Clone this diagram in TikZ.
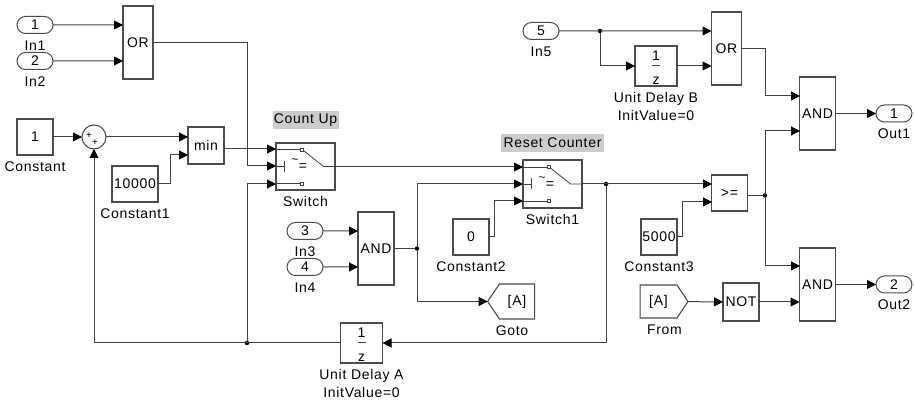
\documentclass[tikz,border=0pt]{standalone}
\usepackage{fontspec}
\setmainfont[LetterSpace=5]{Liberation Sans}
\usetikzlibrary{shapes.misc, shapes.symbols, arrows.meta}
\usetikzlibrary{positioning}

\begin{document}
\begin{tikzpicture}
[
x=1pt, y=-1pt,
font=\fontsize{14}{16}\selectfont,
every node/.style={inner sep=0pt, outer sep=0pt},
                    block/.style   ={rectangle, draw=black!70, line width=1.1pt, text centered, minimum width=36pt},
                    port/.style    ={rounded rectangle, draw=black!70, line width=1pt, minimum width=36pt, minimum height=17pt},
                    tag/.style     ={signal, signal from=nowhere, draw=black!70, line width=1.1pt, signal pointer angle=112},
                    caption/.style ={text height=10pt, text depth=3pt},
                    note/.style    ={fill=black!20, minimum height=18pt},
                    delay/.style   ={block, minimum width=42pt, minimum height=40pt},
                    dot/.style     ={circle, fill=black, minimum size=4.5pt},
                    line/.style    ={draw=black!75, line width=1pt, -{Triangle[length=9pt, width=9pt, color=black, fill=black]}},
                    wire/.style    ={draw=black!75, line width=1pt},
                    switchicon/.pic={
                      \draw[wire, line width=.8pt] (-29.5,-17) -- (-5,-17);
                      \draw[wire, line width=.8pt] (-5,-18.5) rectangle (-2,-15.5);
                      \draw[wire, line width=.8pt] (-2,-16) -- (18,0) -- (29.5,0);
                      \draw[wire, line width=.8pt] (-29.5,0) -- (-21,0);
                      \draw[wire, line width=.8pt] (-21,-5.5) -- (-21,5.5);
                      \draw[wire, line width=.8pt] (-29.5,17) -- (-5,17);
                      \draw[wire, line width=.8pt] (-5,15.5) rectangle (-2,18.5);
                      \node[font=\fontsize{12}{12}\selectfont] (tilde) at (-10.5,-5) {\textasciitilde};
                      \node[font=\fontsize{14}{14}\selectfont] (equal) at (-2.5,1) {=};
                    },
                    delayicon/.pic={
                      \node (num) at (0,-10) {1};
                      \draw[wire] (-4,0) -- (4,0);
                      \node (den) at (0,15) {z};
                    },
                    node distance = 7pt]
\useasboundingbox (0,0) rectangle (914,403);

% left part
\node[port] (inA) at (35,25) {1};
\node[caption, below=of inA] (labInA) {In1};
\node[port] (inB) at (35,61) {2};
\node[caption, below=of inB] (labInB) {In2};
\node[block, minimum width=30pt, minimum height=73pt] (orA) at (138,42.5) {OR};

\node[block, minimum height=36pt] (constA) at (35,137) {1};
\node[caption, below=of constA] (labConstA) {Constant};
\node[circle, draw=black!70, line width=1.1pt, minimum size=24pt] (sum) at (94,137) {};
\node[font=\fontsize{10}{10}\selectfont] (plusA) at (89,136) {+};
\node[font=\fontsize{10}{10}\selectfont] (plusB) at (95,143) {+};
\node[block, minimum width=46pt, minimum height=36pt] (constB) at (135,184) {10000};
\node[caption, below=of constB] (labConstB) {Constant1};
\node[block, minimum height=37pt] (minA) at (206,145.5) {min};

\node[block, minimum width=59pt, minimum height=47pt] (swA) at (305.5,166.5) {};
\pic (swAi) at (swA.center) {switchicon};
\node[caption, below=of swA] (labSwA) {Switch};
\node[note, minimum width=66pt, above=14pt of swA] (noteA) {Count Up};

% middle part
\node[port] (inC) at (305,231) {3};
\node[caption, below=of inC] (labInC) {In3};
\node[port] (inD) at (305,267) {4};
\node[caption, below=of inD] (labInD) {In4};
\node[block, minimum height=73pt] (andA) at (376,248.5) {AND};

\node[block, minimum height=36pt] (constC) at (471,237) {0};
\node[caption, below=of constC] (labConstC) {Constant2};
\node[tag, signal to=west, minimum width=47pt, minimum height=35pt] (goto) at (517,301.5) {[A]};
\node[caption, below=of goto, xshift=-5pt] (labGoto) {Goto};

\node[block, minimum width=59pt, minimum height=48pt] (swB) at (552.5,184) {};
\pic (swBi) at (swB.center) {switchicon};
\node[caption, below=of swB] (labSwB) {Switch1};
\node[note, minimum width=103pt, above=8pt of swB] (noteB) {Reset Counter};

\node[delay] (delayA) at (361.5,343) {};
\pic (delayAi) at (delayA.center) {delayicon};
\node[caption, below=of delayA] (labDelayA) {Unit Delay A};
\node[caption, below=5pt of labDelayA] (valDelayA) {InitValue=0};

% right part
\node[port] (inE) at (541,31) {5};
\node[caption, below=of inE] (labInE) {In5};
\node[delay] (delayB) at (656,66) {};
\pic (delayBi) at (delayB.center) {delayicon};
\node[caption, below=of delayB] (labDelayB) {Unit Delay B};
\node[caption, below=5pt of labDelayB] (valDelayB) {InitValue=0};
\node[block, minimum width=30pt, minimum height=73pt] (orB) at (726.5,48.5) {OR};

\node[block, minimum height=36pt] (cmp) at (729.5,193) {>=};
\node[block, minimum height=36pt] (constD) at (659,237) {5000};
\node[caption, below=of constD] (labConstD) {Constant3};
\node[tag, signal to=east, minimum width=48pt, minimum height=33pt] (from) at (658.5,301.5) {[A]};
\node[caption, below=of from, xshift=6pt] (labFrom) {From};
\node[block, minimum height=38pt] (notA) at (741,302) {NOT};

\node[block, minimum height=73pt] (andB) at (817.5,113.5) {AND};
\node[port] (outA) at (894,113.5) {1};
\node[caption, below=of outA] (labOutA) {Out1};
\node[block, minimum height=73pt] (andC) at (817.5,284.5) {AND};
\node[port] (outB) at (894,284.5) {2};
\node[caption, below=of outB] (labOutB) {Out2};

% ports and branch points
\coordinate (minB) at (188,155);
\coordinate (swAa) at (276,149);
\coordinate (swAb) at (276,166);
\coordinate (swAc) at (276,184);
\coordinate (tapA) at (247,166);
\coordinate (swBa) at (523,167);
\coordinate (swBb) at (523,184);
\coordinate (swBc) at (523,201);
\coordinate (cmpA) at (712,184);
\coordinate (cmpB) at (712,202);
\coordinate (andBa) at (800,96);
\coordinate (andBb) at (800,131);
\coordinate (andCa) at (800,266);
\node[dot] (juncB) at (247,343) {};
\node[dot] (juncC) at (417,248.5) {};
\node[dot] (juncD) at (606,184) {};
\node[dot] (juncE) at (765,195.5) {};
\node[dot] (juncF) at (600,31) {};

\path[line] (inA) -- (inA -| orA.west);
\path[line] (inB) -- (inB -| orA.west);
\path[line] (orA) -| (tapA) -- (swAb);
\path[line] (constA) -- (sum);
\path[line] (sum) -- (sum -| minA.west);
\path[line] (constB.east) -- ++(12,0) |- (minB);
\path[line] (minA.east |- swAa) -- (swAa);
\path[line] (juncB) |- (swAc);
\path[line] (delayA) -| (sum);

\path[line] (inC) -- (inC -| andA.west);
\path[line] (inD) -- (inD -| andA.west);
\path[wire] (andA) -- (juncC);
\path[line] (juncC) |- (goto);
\path[line] (juncC) |- (swBb);
\path[line] (constC.east) -- ++(5,0) |- (swBc);
\path[line] (swA.east |- swBa) -- (swBa);
\path[line] (swB) -- (cmpA);
\path[line] (juncD) |- (delayA);

\path[line] (inE) -- (inE -| orB.west);
\path[line] (juncF) |- (delayB);
\path[line] (delayB) -- (delayB -| orB.west);
\path[line] (orB.east) -- ++(24,0) |- (andBa);
\path[line] (constD.east) -- ++(5,0) |- (cmpB);
\path[wire] (cmp.east |- juncE) -- (juncE);
\path[line] (juncE) |- (andBb);
\path[line] (juncE) |- (andCa);
\path[line] (from) -- (notA);
\path[line] (notA) -- (notA -| andC.west);
\path[line] (andB) -- (outA);
\path[line] (andC) -- (outB);
\end{tikzpicture}
\end{document}
